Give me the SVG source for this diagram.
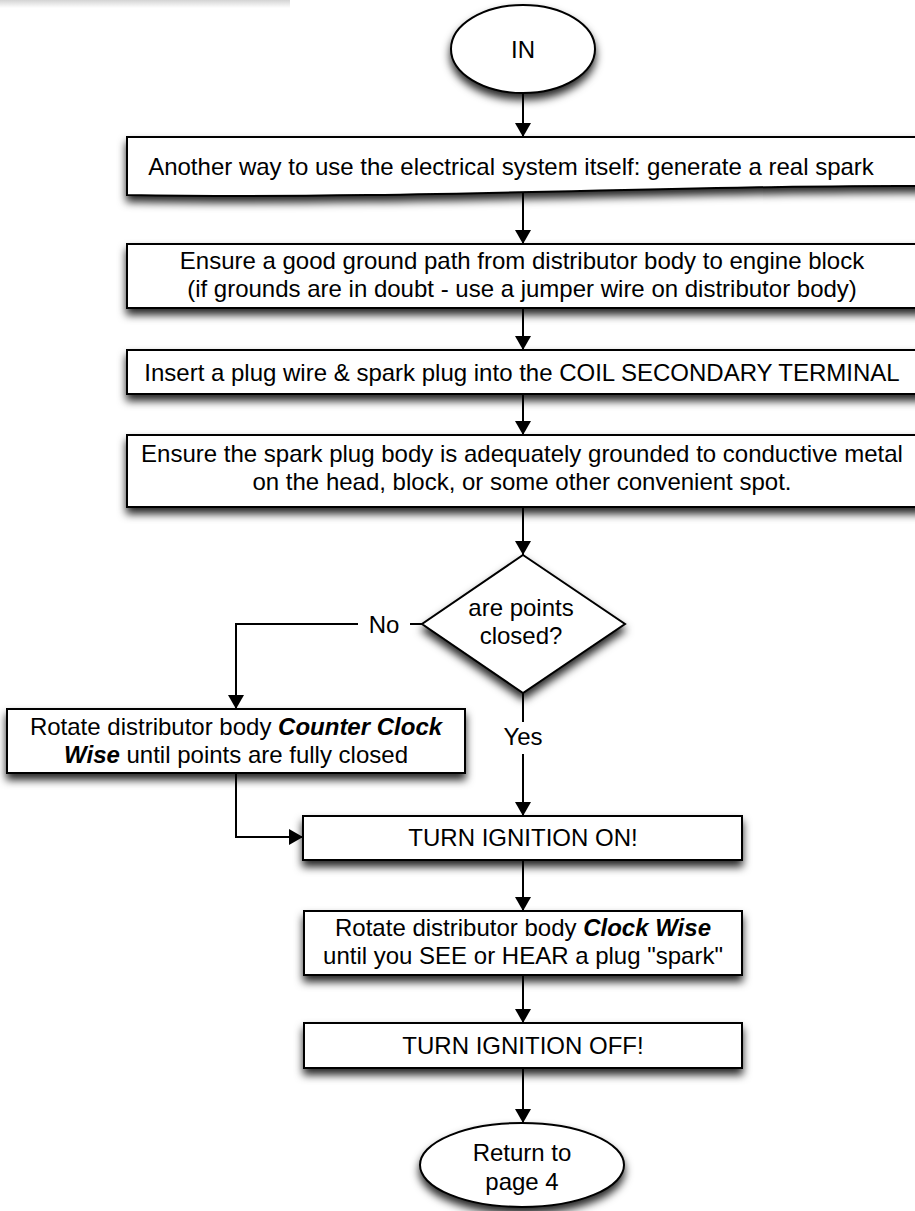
<svg xmlns="http://www.w3.org/2000/svg" width="915" height="1211" viewBox="0 0 915 1211">
  <defs>
    <filter id="shadow" x="-10%" y="-20%" width="120%" height="160%">
      <feDropShadow dx="0" dy="6" stdDeviation="4" flood-color="#000" flood-opacity="0.85"/>
    </filter>
    <linearGradient id="topbar" x1="0" y1="0" x2="0" y2="1">
      <stop offset="0" stop-color="#d4d4d4"/>
      <stop offset="1" stop-color="#ffffff"/>
    </linearGradient>
    <marker id="arrow" viewBox="0 0 14 16" refX="14" refY="8" markerWidth="14" markerHeight="16" markerUnits="userSpaceOnUse" orient="auto">
      <path d="M0,0 L14,8 L0,16 Z" fill="#000"/>
    </marker>
    <style>
      .shape { fill: #fff; stroke: #000; stroke-width: 2; filter: url(#shadow); }
      .edge { fill: none; stroke: #000; stroke-width: 2; }
      .arr { marker-end: url(#arrow); }
      text { font-family: "Liberation Sans", Arial, sans-serif; font-size: 24px; fill: #000; text-anchor: middle; }
      .bi { font-weight: bold; font-style: italic; }
    </style>
  </defs>

  <rect width="915" height="1211" fill="#fff"/>
  <rect x="0" y="0" width="290" height="8" fill="url(#topbar)"/>

  <!-- connectors -->
  <g id="connectors">
    <path class="edge arr" d="M523,93 L523,137"/>
    <path class="edge arr" d="M523,192 L523,244"/>
    <path class="edge arr" d="M523,308 L523,350"/>
    <path class="edge arr" d="M523,394 L523,435"/>
    <path class="edge arr" d="M523,507 L523,555"/>
    <!-- No branch -->
    <path class="edge" d="M422,624 L410,624"/>
    <path class="edge arr" d="M358,624 L236,624 L236,709"/>
    <text x="384" y="633">No</text>
    <!-- Yes branch -->
    <path class="edge" d="M523,693 L523,722"/>
    <path class="edge arr" d="M523,754 L523,816"/>
    <text x="523" y="745">Yes</text>
    <!-- rejoin from left box -->
    <path class="edge arr" d="M236,773 L236,837 L303,837"/>
    <path class="edge arr" d="M523,860 L523,911"/>
    <path class="edge arr" d="M523,975 L523,1023"/>
    <path class="edge arr" d="M523,1068 L523,1123"/>
  </g>

  <g id="start">
    <ellipse class="shape" cx="523" cy="49" rx="72" ry="44"/>
    <text x="523" y="58">IN</text>
  </g>

  <g id="intro">
    <path class="shape" d="M127,137 L930,137 L930,186 C700,184 420,200 127,195 Z"/>
    <text x="511" y="175">Another way to use the electrical system itself: generate a real spark</text>
  </g>

  <g id="ground-path">
    <rect class="shape" x="127" y="244" width="800" height="64"/>
    <text x="522" y="269">Ensure a good ground path from distributor body to engine block</text>
    <text x="522" y="297">(if grounds are in doubt - use a jumper wire on distributor body)</text>
  </g>

  <g id="insert-plug">
    <rect class="shape" x="127" y="350" width="800" height="44"/>
    <text x="522" y="381">Insert a plug wire &amp; spark plug into the COIL SECONDARY TERMINAL</text>
  </g>

  <g id="plug-ground">
    <rect class="shape" x="127" y="435" width="800" height="72"/>
    <text x="522" y="462">Ensure the spark plug body is adequately grounded to conductive metal</text>
    <text x="522" y="490">on the head, block, or some other convenient spot.</text>
  </g>

  <g id="points-closed">
    <polygon class="shape" points="523,555 625,624 523,693 422,624"/>
    <text x="521" y="616">are points</text>
    <text x="521" y="644">closed?</text>
  </g>

  <g id="rotate-ccw">
    <rect class="shape" x="7" y="709" width="458" height="64"/>
    <text x="236" y="735">Rotate distributor body <tspan class="bi">Counter Clock</tspan></text>
    <text x="236" y="763"><tspan class="bi">Wise</tspan> until points are fully closed</text>
  </g>

  <g id="ignition-on">
    <rect class="shape" x="303" y="816" width="439" height="44"/>
    <text x="523" y="846">TURN IGNITION ON!</text>
  </g>

  <g id="rotate-cw">
    <rect class="shape" x="304" y="911" width="438" height="64"/>
    <text x="523" y="936">Rotate distributor body <tspan class="bi">Clock Wise</tspan></text>
    <text x="523" y="964">until you SEE or HEAR a plug "spark"</text>
  </g>

  <g id="ignition-off">
    <rect class="shape" x="304" y="1023" width="438" height="45"/>
    <text x="523" y="1054">TURN IGNITION OFF!</text>
  </g>

  <g id="return">
    <ellipse class="shape" cx="522" cy="1165" rx="102" ry="42"/>
    <text x="522" y="1161">Return to</text>
    <text x="522" y="1190">page 4</text>
  </g>
</svg>
